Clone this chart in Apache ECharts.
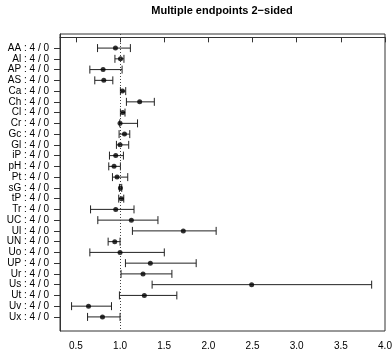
<!DOCTYPE html>
<html>
<head>
<meta charset="utf-8">
<script src="https://cdn.jsdelivr.net/npm/echarts@6/dist/echarts.min.js"></script>
<style>
  html, body { margin: 0; padding: 0; background: #fff; }
  #chart { width: 392px; height: 352px; }
</style>
</head>
<body>
<div id="chart"></div>
<script>
// endpoints, top to bottom
var endpoints = ['AA', 'Al', 'AP', 'AS', 'Ca', 'Ch', 'Cl', 'Cr', 'Gc', 'Gl', 'iP', 'pH', 'Pt',
                 'sG', 'tP', 'Tr', 'UC', 'Ul', 'UN', 'Uo', 'UP', 'Ur', 'Us', 'Ut', 'Uv', 'Ux'];
var nTotal = [4, 4, 4, 4, 4, 4, 4, 4, 4, 4, 4, 4, 4, 4, 4, 4, 4, 4, 4, 4, 4, 4, 4, 4, 4, 4];
var nZero  = [0, 0, 0, 0, 0, 0, 0, 0, 0, 0, 0, 0, 0, 0, 0, 0, 0, 0, 0, 0, 0, 0, 0, 0, 0, 0];
// ratio estimate and confidence limits
var estimate = [0.948, 1.005, 0.808, 0.816, 1.027, 1.222, 1.030, 1.000, 1.050, 1.000, 0.951, 0.932, 0.966,
                1.004, 1.016, 0.951, 1.128, 1.716, 0.940, 1.000, 1.343, 1.260, 2.490, 1.275, 0.643, 0.801];
var lower    = [0.745, 0.942, 0.658, 0.714, 1.004, 1.072, 1.004, 0.997, 0.989, 0.959, 0.880, 0.872, 0.914,
                0.993, 0.985, 0.666, 0.748, 1.140, 0.865, 0.658, 1.061, 1.011, 1.363, 0.993, 0.451, 0.632];
var upper    = [1.117, 1.044, 1.023, 0.918, 1.064, 1.388, 1.056, 1.198, 1.110, 1.098, 1.038, 1.004, 1.087,
                1.019, 1.042, 1.158, 1.429, 2.088, 1.000, 1.501, 1.862, 1.587, 3.849, 1.643, 0.903, 1.000];
var xTicks = [0.5, 1.0, 1.5, 2.0, 2.5, 3.0, 3.5, 4.0];

var rowIdx = endpoints.map(function (d, i) { return i + 1; });
var rowLabels = endpoints.map(function (d, i) { return d + ' : ' + nTotal[i] + ' / ' + nZero[i]; });

var barData = endpoints.map(function (d, i) { return [lower[i], upper[i], i + 1]; });
var pointData = endpoints.map(function (d, i) { return [estimate[i], i + 1]; });

var chart = echarts.init(document.getElementById('chart'), null, { renderer: 'canvas' });
var font = 'Liberation Sans, Arial, Helvetica, sans-serif';

chart.setOption({
  animation: false,
  backgroundColor: '#fff',
  title: {
    text: 'Multiple endpoints 2\u2212sided',
    left: 222,
    top: 5,
    padding: 0,
    textAlign: 'center',
    textStyle: { fontFamily: font, fontSize: 11, fontWeight: 'bold', color: '#000' }
  },
  grid: {
    left: 60, right: 7, top: 34, bottom: 21,
    show: true, borderColor: '#333', borderWidth: 1,
    outerBoundsMode: 'none'
  },
  xAxis: {
    type: 'value',
    min: 0.32,
    max: 4.0,
    splitLine: { show: false },
    axisLine: { show: true, lineStyle: { color: '#333' } },
    axisTick: { show: true, length: 5, customValues: xTicks, lineStyle: { color: '#333' } },
    axisLabel: {
      customValues: xTicks,
      margin: 10,
      fontFamily: font, fontSize: 10, color: '#000',
      formatter: function (v) { return v.toFixed(1); }
    }
  },
  yAxis: {
    type: 'value',
    inverse: true,
    min: -0.31,
    max: 27.31,
    splitLine: { show: false },
    axisLine: { show: true, lineStyle: { color: '#333' } },
    axisTick: { show: true, length: 6, customValues: rowIdx, lineStyle: { color: '#333' } },
    axisLabel: {
      customValues: rowIdx,
      margin: 11,
      fontFamily: font, fontSize: 10, color: '#000',
      formatter: function (v) { return rowLabels[Math.round(v) - 1]; }
    }
  },
  series: [
    {
      type: 'custom',
      data: barData,
      encode: { x: [0, 1], y: 2 },
      renderItem: function (params, api) {
        var y = api.value(2);
        var p0 = api.coord([api.value(0), y]);
        var p1 = api.coord([api.value(1), y]);
        var h = 4;
        var style = { stroke: '#222', lineWidth: 1, fill: null };
        return {
          type: 'group',
          children: [
            { type: 'line', shape: { x1: p0[0], y1: p0[1], x2: p1[0], y2: p1[1] }, style: style },
            { type: 'line', shape: { x1: p0[0], y1: p0[1] - h, x2: p0[0], y2: p0[1] + h }, style: style },
            { type: 'line', shape: { x1: p1[0], y1: p1[1] - h, x2: p1[0], y2: p1[1] + h }, style: style }
          ]
        };
      },
      z: 2
    },
    {
      type: 'scatter',
      data: pointData,
      symbol: 'circle',
      symbolSize: 5,
      itemStyle: { color: '#000' },
      z: 3,
      markLine: {
        silent: true,
        symbol: 'none',
        label: { show: false },
        lineStyle: { type: [1, 2], color: '#444', width: 1 },
        data: [{ xAxis: 1 }]
      }
    }
  ]
});
</script>
</body>
</html>
